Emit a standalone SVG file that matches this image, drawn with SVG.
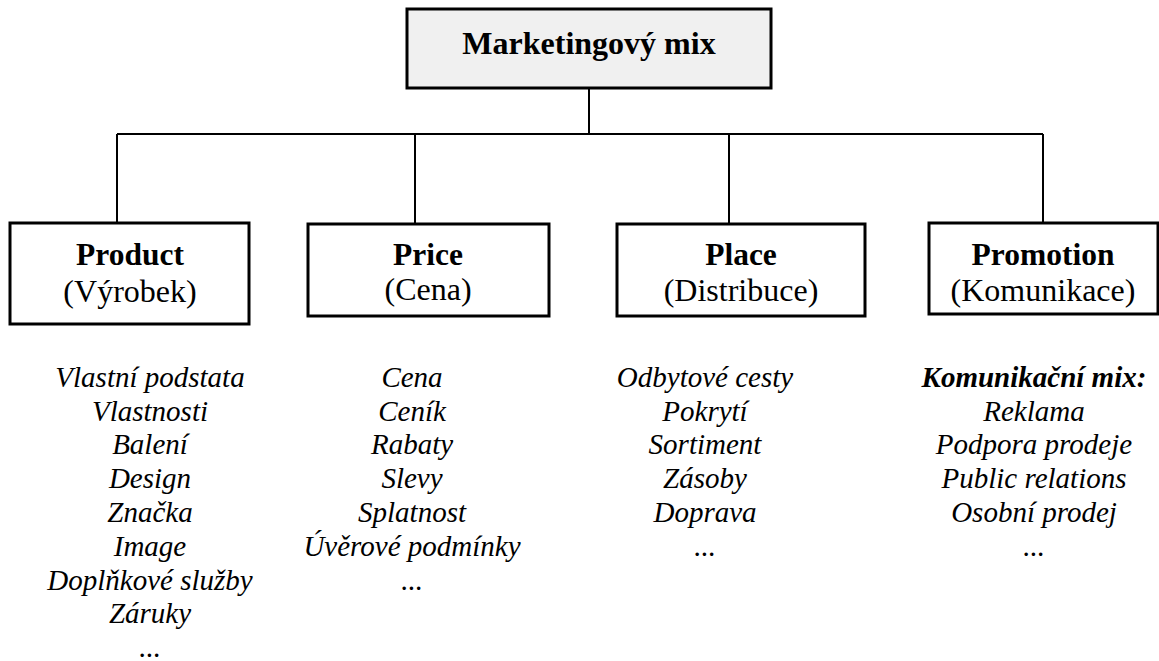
<svg xmlns="http://www.w3.org/2000/svg" width="1159" height="661" viewBox="0 0 1159 661">
<style>
.box{fill:#ffffff;stroke:#000;stroke-width:3}
.top{fill:#f0f0f0;stroke:#000;stroke-width:3}
.line{fill:none;stroke:#000;stroke-width:2}
text{font-family:"Liberation Serif","Times New Roman",serif;fill:#000;text-anchor:middle}
.b{font-weight:bold;font-size:31.5px}
.r{font-size:32px}
.t{font-weight:bold;font-size:32px}
.i{font-style:italic;font-size:29px}
.bi{font-style:italic;font-weight:bold;font-size:29px}
</style>
<rect width="1159" height="661" fill="#fff"/>
<g id="connectors">
<path class="line" d="M589 88V134M117 134H1043M117 134V223M415 134V224M729 134V224M1043 134V223"/>
</g>
<g id="root">
<rect class="top" x="407" y="9" width="364" height="79"/>
<text class="t" x="589" y="54">Marketingový mix</text>
</g>
<g id="product">
<rect class="box" x="10" y="223" width="239" height="101"/>
<text class="b" x="130" y="265">Product</text>
<text class="r" x="130" y="302">(Výrobek)</text>
</g>
<g id="price">
<rect class="box" x="308" y="224" width="241" height="92"/>
<text class="b" x="428" y="265">Price</text>
<text class="r" x="428" y="300">(Cena)</text>
</g>
<g id="place">
<rect class="box" x="617" y="224" width="248" height="92"/>
<text class="b" x="741" y="265">Place</text>
<text class="r" x="741" y="301">(Distribuce)</text>
</g>
<g id="promotion">
<rect class="box" x="929" y="223" width="229" height="91"/>
<text class="b" x="1043" y="265">Promotion</text>
<text class="r" x="1043" y="301">(Komunikace)</text>
</g>
<g id="product-list">
<text class="i" x="150" y="387">Vlastní podstata</text>
<text class="i" x="150" y="421">Vlastnosti</text>
<text class="i" x="150" y="454">Balení</text>
<text class="i" x="150" y="488">Design</text>
<text class="i" x="150" y="522">Značka</text>
<text class="i" x="150" y="556">Image</text>
<text class="i" x="150" y="590">Doplňkové služby</text>
<text class="i" x="150" y="623">Záruky</text>
<text class="i" x="150" y="657">...</text>
</g>
<g id="price-list">
<text class="i" x="412" y="387">Cena</text>
<text class="i" x="412" y="421">Ceník</text>
<text class="i" x="412" y="454">Rabaty</text>
<text class="i" x="412" y="488">Slevy</text>
<text class="i" x="412" y="522">Splatnost</text>
<text class="i" x="412" y="556">Úvěrové podmínky</text>
<text class="i" x="412" y="590">...</text>
</g>
<g id="place-list">
<text class="i" x="705" y="387">Odbytové cesty</text>
<text class="i" x="705" y="421">Pokrytí</text>
<text class="i" x="705" y="454">Sortiment</text>
<text class="i" x="705" y="488">Zásoby</text>
<text class="i" x="705" y="522">Doprava</text>
<text class="i" x="705" y="556">...</text>
</g>
<g id="promotion-list">
<text class="bi" x="1034" y="387">Komunikační mix:</text>
<text class="i" x="1034" y="421">Reklama</text>
<text class="i" x="1034" y="454">Podpora prodeje</text>
<text class="i" x="1034" y="488">Public relations</text>
<text class="i" x="1034" y="522">Osobní prodej</text>
<text class="i" x="1034" y="556">...</text>
</g>
</svg>
